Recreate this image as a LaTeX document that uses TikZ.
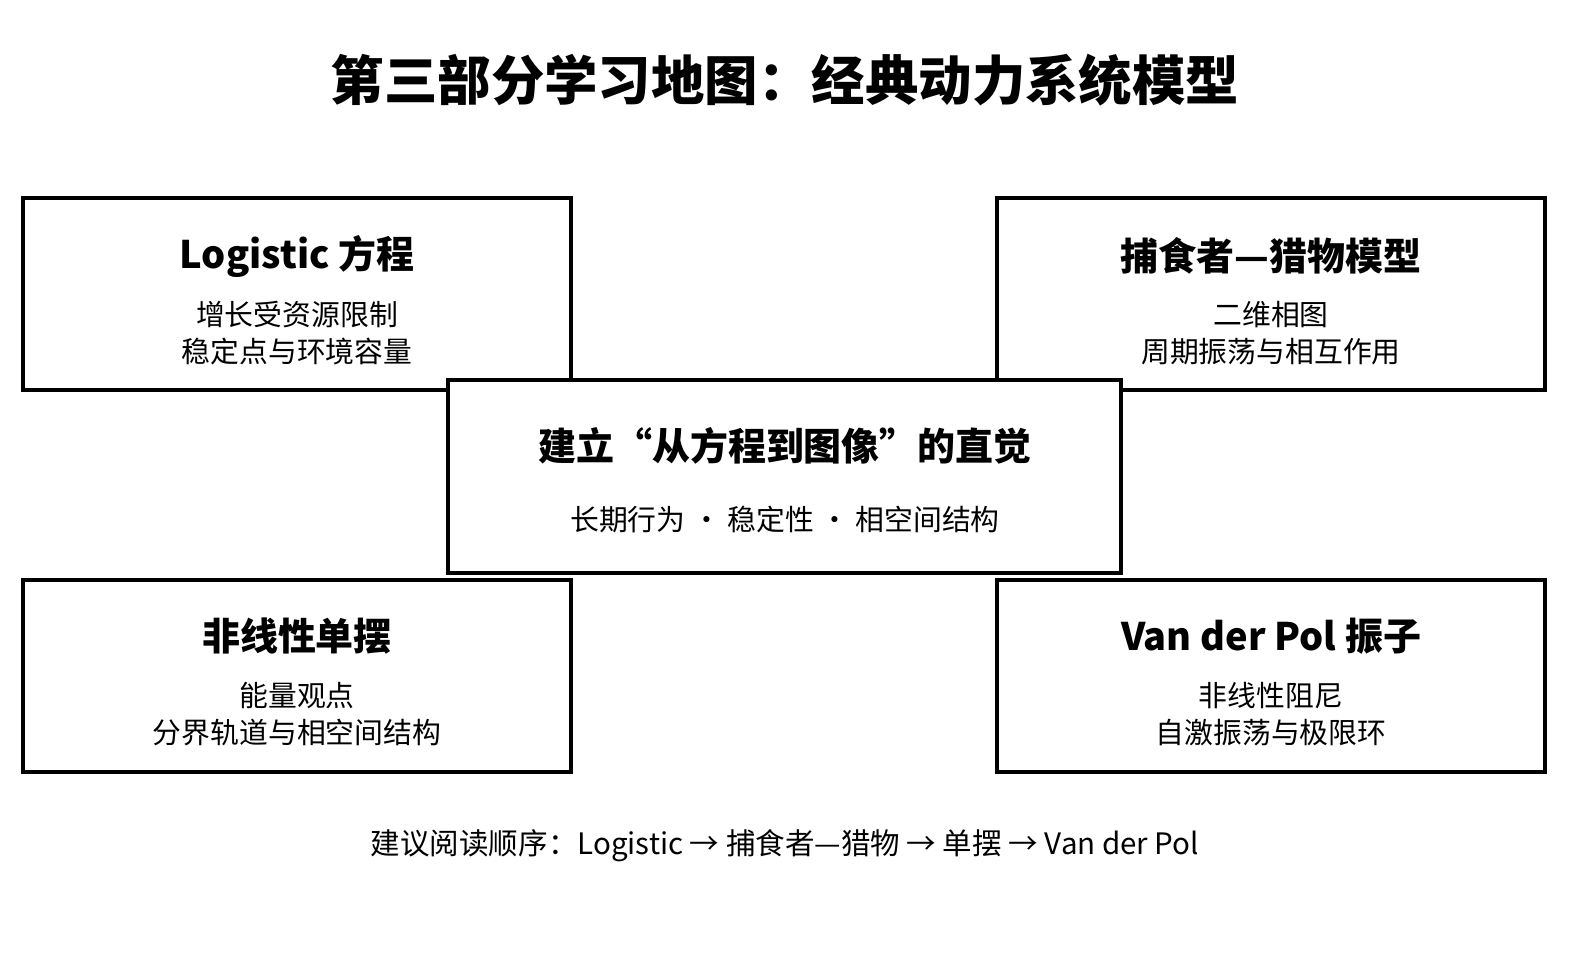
\documentclass[tikz,border=0pt]{standalone}
\usepackage{fontspec}
\setmainfont{Noto Sans CJK SC}
\begin{document}
\begin{tikzpicture}[x=0.025cm,y=-0.025cm,
 box/.style={draw,line width=2.8pt,fill=white},
 ttl/.style={font=\bfseries\fontsize{27}{32}\selectfont},
 bdy/.style={font=\fontsize{20.5}{26}\selectfont,align=center}]
\useasboundingbox (0,0) rectangle (1578,958);
\node[font=\bfseries\fontsize{38}{44}\selectfont] (title) at (785,80) {第三部分学习地图：经典动力系统模型};
\draw[box] (23,198) rectangle (571,390);
\node[ttl] (t1) at (297,256) {Logistic 方程};
\node[bdy] (b1) at (297,333) {增长受资源限制\\稳定点与环境容量};
\draw[box] (997,198) rectangle (1545,390);
\node[ttl] (t2) at (1271,256) {捕食者—猎物模型};
\node[bdy] (b2) at (1271,333) {二维相图\\周期振荡与相互作用};
\draw[box] (23,580) rectangle (571,772);
\node[ttl] (t3) at (297,636) {非线性单摆};
\node[bdy] (b3) at (297,714) {能量观点\\分界轨道与相空间结构};
\draw[box] (997,580) rectangle (1545,772);
\node[ttl] (t4) at (1271,636) {Van der Pol 振子};
\node[bdy] (b4) at (1271,714) {非线性阻尼\\自激振荡与极限环};
\draw[box] (448,380) rectangle (1121,573);
\node[ttl] (t5) at (785,446) {建立“从方程到图像”的直觉};
\node[bdy] (b5) at (785,520) {长期行为 · 稳定性 · 相空间结构};
\node[font=\fontsize{21}{26}\selectfont] (foot) at (785,846) {建议阅读顺序：Logistic → 捕食者—猎物 → 单摆 → Van der Pol};
\end{tikzpicture}
\end{document}
